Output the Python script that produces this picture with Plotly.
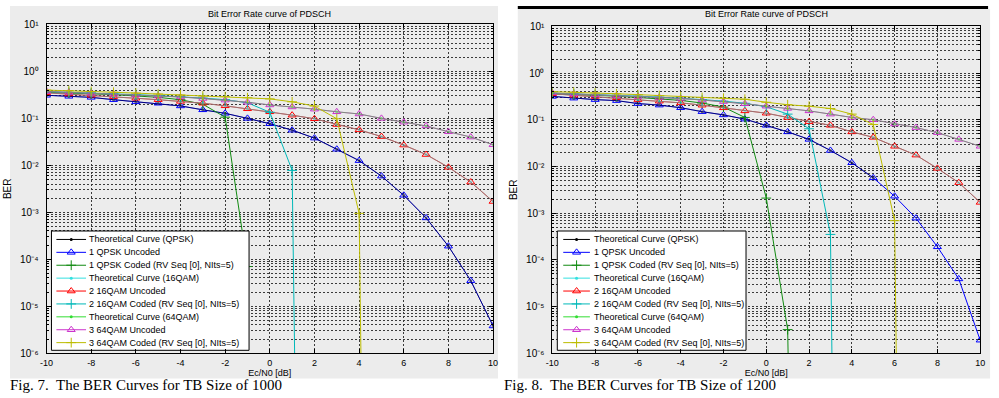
import plotly.graph_objects as go

# ---------------- data ----------------
ebn0 = list(range(-10, 11))
x_ticks = [-10, -8, -6, -4, -2, 0, 2, 4, 6, 8, 10]
x_tick_labels = ["-10", "-8", "-6", "-4", "-2", "0", "2", "4", "6", "8", "10"]
y_ticks = [1e-6, 1e-5, 1e-4, 1e-3, 1e-2, 1e-1, 1e0, 1e1]
y_tick_labels = ["10⁻⁶", "10⁻⁵", "10⁻⁴", "10⁻³", "10⁻²", "10⁻¹", "10⁰", "10¹"]

names = ["Theoretical Curve (QPSK)", "1 QPSK Uncoded", "1 QPSK Coded (RV Seq [0], NIts=5)",
         "Theoretical Curve (16QAM)", "2 16QAM Uncoded", "2 16QAM Coded (RV Seq [0], NIts=5)",
         "Theoretical Curve (64QAM)", "3 64QAM Uncoded", "3 64QAM Coded (RV Seq [0], NIts=5)"]
kinds = ["th", "unc", "cod", "th", "unc", "cod", "th", "unc", "cod"]
chart_title = "Bit Error Rate curve of PDSCH"
x_title = "Ec/N0 [dB]"
y_title = "BER"
captions = ["Fig. 7.  The BER Curves for TB Size of 1000", "Fig. 8.  The BER Curves for TB Size of 1200"]

# ---- TB size 1000 (left) ----
L_qpsk_unc = [0.31, 0.295, 0.28, 0.25, 0.225, 0.21, 0.184, 0.152, 0.128, 0.10, 0.077,
              0.056, 0.038, 0.022, 0.0126, 0.0059, 0.0023, 7.6e-4, 1.9e-4, 3.5e-5, 3.8e-6]
L_qpsk_th = [0.31, 0.295, 0.28, 0.25, 0.225, 0.21, 0.184, 0.152, 0.128, 0.10, 0.077,
             0.056, 0.038, 0.022, 0.0126, 0.0059, 0.0023, 7.6e-4, 1.9e-4, 3.5e-5, 3.8e-6]
L_qpsk_cod_x = [-10, -9, -8, -7, -6, -5, -4, -3, -2, -1]
L_qpsk_cod = [0.36, 0.35, 0.335, 0.32, 0.30, 0.28, 0.25, 0.20, 0.106, 7e-5]
L_16_unc = [0.35, 0.33, 0.31, 0.29, 0.268, 0.25, 0.23, 0.21, 0.185, 0.16, 0.138,
            0.117, 0.098, 0.074, 0.057, 0.041, 0.027, 0.017, 0.0091, 0.0044, 0.0017]
L_16_th = [0.35, 0.33, 0.31, 0.29, 0.268, 0.25, 0.23, 0.21, 0.185, 0.16, 0.138,
           0.117, 0.098, 0.074, 0.057, 0.041, 0.027, 0.017, 0.0091, 0.0044, 0.0017]
L_16_cod_x = [-10, -9, -8, -7, -6, -5, -4, -3, -2, -1, 0, 1, 2]
L_16_cod = [0.37, 0.36, 0.35, 0.335, 0.32, 0.305, 0.29, 0.27, 0.25, 0.215, 0.135, 0.0078, 1e-37]
L_64_unc = [0.375, 0.36, 0.345, 0.33, 0.315, 0.30, 0.285, 0.265, 0.245, 0.22, 0.193,
            0.175, 0.157, 0.138, 0.124, 0.10, 0.083, 0.069, 0.052, 0.040, 0.0275]
L_64_th = [0.375, 0.36, 0.345, 0.33, 0.315, 0.30, 0.285, 0.265, 0.245, 0.22, 0.193,
           0.175, 0.157, 0.138, 0.124, 0.10, 0.083, 0.069, 0.052, 0.040, 0.0275]
L_64_cod_x = [-10, -9, -8, -7, -6, -5, -4, -3, -2, -1, 0, 1, 2, 3, 4, 5]
L_64_cod = [0.40, 0.39, 0.375, 0.36, 0.345, 0.33, 0.315, 0.30, 0.29, 0.275, 0.26,
            0.225, 0.183, 0.098, 9.5e-4, 1e-40]

# ---- TB size 1200 (right) ----
R_qpsk_unc = [0.316, 0.29, 0.27, 0.257, 0.222, 0.206, 0.181, 0.149, 0.127, 0.103, 0.076,
              0.055, 0.038, 0.022, 0.012, 0.0057, 0.0023, 7.8e-4, 1.9e-4, 3.9e-5, 1.9e-6]
R_qpsk_th_x = [-10, -9, -8, -7, -6, -5, -4, -3, -2, -1, 0, 1, 2, 3, 4, 5]
R_qpsk_th = [0.316, 0.29, 0.27, 0.257, 0.222, 0.206, 0.181, 0.149, 0.127, 0.103, 0.076,
             0.055, 0.038, 0.022, 0.012, 0.0057]
R_qpsk_cod_x = [-10, -9, -8, -7, -6, -5, -4, -3, -2, -1, 0, 1, 2]
R_qpsk_cod = [0.36, 0.35, 0.335, 0.32, 0.30, 0.28, 0.26, 0.228, 0.187, 0.112, 2.1e-3, 3.2e-6, 1e-30]
R_16_unc = [0.36, 0.335, 0.315, 0.295, 0.27, 0.25, 0.23, 0.205, 0.18, 0.155, 0.138,
            0.112, 0.091, 0.076, 0.055, 0.042, 0.027, 0.0175, 0.0091, 0.0045, 0.0017]
R_16_th = [0.36, 0.335, 0.315, 0.295, 0.27, 0.25, 0.23, 0.205, 0.18, 0.155, 0.138,
           0.112, 0.091, 0.076, 0.055, 0.042, 0.027, 0.0175, 0.0091, 0.0045, 0.0017]
R_16_cod_x = [-10, -9, -8, -7, -6, -5, -4, -3, -2, -1, 0, 1, 2, 3, 4]
R_16_cod = [0.37, 0.36, 0.35, 0.335, 0.32, 0.305, 0.29, 0.27, 0.25, 0.225, 0.19, 0.132, 0.064, 3.5e-4, 1e-40]
R_64_unc = [0.375, 0.36, 0.345, 0.33, 0.315, 0.30, 0.285, 0.265, 0.245, 0.22, 0.195,
            0.175, 0.155, 0.132, 0.112, 0.10, 0.081, 0.068, 0.053, 0.038, 0.027]
R_64_th = [0.375, 0.36, 0.345, 0.33, 0.315, 0.30, 0.285, 0.265, 0.245, 0.22, 0.195,
           0.175, 0.155, 0.132, 0.112, 0.10, 0.081, 0.068, 0.053, 0.038, 0.027]
R_64_cod_x = [-10, -9, -8, -7, -6, -5, -4, -3, -2, -1, 0, 1, 2, 3, 4, 5, 6, 7]
R_64_cod = [0.40, 0.39, 0.375, 0.36, 0.345, 0.33, 0.315, 0.30, 0.29, 0.275, 0.237,
            0.21, 0.195, 0.174, 0.132, 0.079, 6.9e-4, 1e-40]

# ---------------- styles ----------------
colors = ["#000000", "#0000ff", "#118a11", "#33e0e0", "#ff0000", "#00b8b8", "#33dd33", "#cc33cc", "#bcbc00"]
W, H = 999, 398
FONT = "Liberation Sans, Arial, sans-serif"
SERIF = "Liberation Serif, Times New Roman, serif"
GRID = "#3a3a3a"
DASH = "2px,2px"


def px_x(p):
    return p / W


def px_y(p):
    return 1 - p / H


def style(idx):
    c = colors[idx]
    k = kinds[idx]
    if k == "th":
        return dict(symbol="circle", size=3, color=c), 0.5
    if k == "unc":
        return dict(symbol="triangle-up-open", size=7, color=c, line=dict(color=c, width=1)), 1.0
    return dict(symbol="cross-thin-open", size=7, color=c, line=dict(color=c, width=1)), 1.0


fig = go.Figure()


def add_chart(series, xa, ya):
    for idx, xs, ys in series:
        marker, opacity = style(idx)
        fig.add_trace(go.Scatter(x=xs, y=ys, mode="lines+markers", name=names[idx],
                                 line=dict(color=colors[idx], width=1), marker=marker,
                                 opacity=opacity, xaxis=xa, yaxis=ya, showlegend=False))


left_series = [
    (1, ebn0, L_qpsk_unc), (0, ebn0, L_qpsk_th), (2, L_qpsk_cod_x, L_qpsk_cod),
    (4, ebn0, L_16_unc), (3, ebn0, L_16_th), (5, L_16_cod_x, L_16_cod),
    (7, ebn0, L_64_unc), (6, ebn0, L_64_th), (8, L_64_cod_x, L_64_cod),
]
right_series = [
    (1, ebn0, R_qpsk_unc), (0, R_qpsk_th_x, R_qpsk_th), (2, R_qpsk_cod_x, R_qpsk_cod),
    (4, ebn0, R_16_unc), (3, ebn0, R_16_th), (5, R_16_cod_x, R_16_cod),
    (7, ebn0, R_64_unc), (6, ebn0, R_64_th), (8, R_64_cod_x, R_64_cod),
]
add_chart(left_series, "x", "y")
add_chart(right_series, "x2", "y2")

# ---------------- legends (drawn on overlay axes measured in pixels) ----------------
# plot boxes in pixels: (left, right, top, bottom)
plot_boxes = [(40, 492, 19, 358), (552, 985, 21, 358)]
# legend boxes: (left, right, top, bottom, key_left, key_right, text_left)
legend_boxes = [(45, 245, 232, 355, 50, 80, 81), (557, 748, 232, 355, 563, 590, 592)]
ROW0, ROW_STEP = 240.7, 13.3

annotations = []
for li, (lb, pb) in enumerate(zip(legend_boxes, plot_boxes)):
    xa = "x%d" % (li + 3)
    ya = "y%d" % (li + 3)
    bx0, bx1, by0, by1, kx0, kx1, tx = lb
    fig.add_trace(go.Scatter(x=[bx0, bx1, bx1, bx0, bx0], y=[by0, by0, by1, by1, by0], mode="lines",
                             fill="toself", fillcolor="white", line=dict(color="black", width=1),
                             xaxis=xa, yaxis=ya, showlegend=False, hoverinfo="skip"))
    for i in range(9):
        ry = ROW0 + i * ROW_STEP
        marker, opacity = style(i)
        fig.add_trace(go.Scatter(x=[kx0, kx1], y=[ry, ry], mode="lines",
                                 line=dict(color=colors[i], width=1), xaxis=xa, yaxis=ya,
                                 showlegend=False, hoverinfo="skip"))
        fig.add_trace(go.Scatter(x=[(kx0 + kx1) / 2], y=[ry], mode="markers", marker=marker,
                                 xaxis=xa, yaxis=ya, showlegend=False, hoverinfo="skip"))
        annotations.append(dict(text=names[i], xref=xa, yref=ya, x=tx, y=ry, showarrow=False,
                                xanchor="left", yanchor="middle",
                                font=dict(family=FONT, size=9, color="black")))


def xaxis(domain, anchor):
    return dict(domain=domain, anchor=anchor, range=[-10, 10], tickvals=x_ticks, ticktext=x_tick_labels,
                showgrid=True, gridcolor=GRID, griddash=DASH, gridwidth=1, zeroline=False,
                showline=True, linecolor="black", linewidth=1, mirror="ticks", ticks="inside", ticklen=4,
                tickcolor="black", ticklabelstandoff=1, tickfont=dict(family=FONT, size=9, color="black"),
                title=dict(text=x_title, font=dict(family=FONT, size=9, color="black"), standoff=0))


def yaxis(domain, anchor):
    return dict(domain=domain, anchor=anchor, type="log", range=[-6, 1], tickvals=y_ticks,
                ticktext=y_tick_labels, showgrid=True, gridcolor=GRID, griddash=DASH, gridwidth=1,
                zeroline=False, showline=True, linecolor="black", linewidth=1, mirror="ticks",
                ticks="inside", ticklen=4, tickcolor="black", ticklabelstandoff=5,
                tickfont=dict(family=FONT, size=10, color="black"),
                minor=dict(dtick="D1", showgrid=True, gridcolor=GRID, griddash=DASH, gridwidth=1,
                           ticks="inside", ticklen=2, tickcolor="black"),
                title=dict(text=y_title, font=dict(family=FONT, size=10, color="black"), standoff=6))


def overlay_x(base, box):
    return dict(overlaying=base, range=[box[0], box[1]], visible=False, showgrid=False, zeroline=False)


def overlay_y(base, box):
    return dict(overlaying=base, range=[box[3], box[2]], visible=False, showgrid=False, zeroline=False)


annotations += [
    dict(text=chart_title, xref="paper", yref="paper", x=px_x(266), y=px_y(8), showarrow=False,
         xanchor="center", yanchor="middle", font=dict(family=FONT, size=9, color="black")),
    dict(text=chart_title, xref="paper", yref="paper", x=px_x(768.5), y=px_y(8), showarrow=False,
         xanchor="center", yanchor="middle", font=dict(family=FONT, size=9, color="black")),
    dict(text=captions[0], xref="paper", yref="paper", x=px_x(2), y=px_y(381), showarrow=False,
         xanchor="left", yanchor="top", borderpad=0, font=dict(family=SERIF, size=15, color="black")),
    dict(text=captions[1], xref="paper", yref="paper", x=px_x(502), y=px_y(381), showarrow=False,
         xanchor="left", yanchor="top", borderpad=0, font=dict(family=SERIF, size=15, color="black")),
]

fig.update_layout(
    width=W, height=H, margin=dict(l=0, r=0, t=0, b=0),
    paper_bgcolor="white", plot_bgcolor="white", showlegend=False,
    xaxis=xaxis([px_x(40), px_x(492)], "y"),
    yaxis=yaxis([px_y(358), px_y(19)], "x"),
    xaxis2=xaxis([px_x(552), px_x(985)], "y2"),
    yaxis2=yaxis([px_y(358), px_y(21)], "x2"),
    xaxis3=overlay_x("x", plot_boxes[0]), yaxis3=overlay_y("y", plot_boxes[0]),
    xaxis4=overlay_x("x2", plot_boxes[1]), yaxis4=overlay_y("y2", plot_boxes[1]),
    shapes=[
        dict(type="rect", xref="paper", yref="paper", x0=px_x(3), x1=px_x(497), y0=px_y(384), y1=px_y(0),
             fillcolor="#ececec", line=dict(width=0), layer="below"),
        dict(type="rect", xref="paper", yref="paper", x0=px_x(517), x1=px_x(995), y0=px_y(384), y1=px_y(3),
             fillcolor="#ececec", line=dict(width=0), layer="below"),
        dict(type="rect", xref="paper", yref="paper", x0=px_x(517), x1=px_x(993), y0=px_y(3), y1=px_y(0),
             fillcolor="black", line=dict(width=0), layer="below"),
    ],
    annotations=annotations,
)

fig.write_html("out.html")
